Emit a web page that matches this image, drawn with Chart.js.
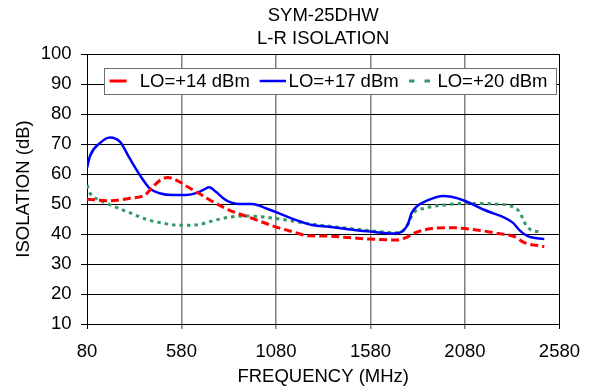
<!DOCTYPE html>
<html>
<head>
<meta charset="utf-8">
<script src="https://cdn.jsdelivr.net/npm/chart.js@4/dist/chart.umd.min.js"></script>
<style>
  body { margin: 0; background: #fff; }
  #wrap { width: 592px; height: 388px; }
</style>
</head>
<body>
<div id="wrap"><canvas id="isoChart"></canvas></div>
<script>
// --- data (MHz / dB) ---
const seriesLabels = ["LO=+14 dBm", "LO=+17 dBm", "LO=+20 dBm"];

const freq14 = [80, 201, 306, 386, 430, 473, 508, 552, 605, 657, 745, 832, 955, 1078, 1166, 1254, 1359, 1464, 1580, 1727, 1771, 1815, 1903, 2008, 2113, 2254, 2342, 2395, 2500];
const iso14 = [51.6, 51.1, 51.9, 53, 55.8, 58.2, 58.8, 58, 56, 54.1, 50.8, 48, 45.2, 42.4, 40.8, 39.4, 39.3, 38.8, 38.3, 38, 38.9, 40.4, 41.8, 42.1, 41.6, 40.2, 39.1, 37.1, 35.8];

const freq17 = [80, 96, 148, 201, 254, 306, 359, 412, 464, 534, 605, 666, 701, 727, 762, 815, 885, 955, 1026, 1096, 1184, 1271, 1359, 1464, 1580, 1710, 1754, 1780, 1797, 1824, 1885, 1964, 2008, 2078, 2184, 2333, 2368, 2412, 2500];
const iso17 = [62, 66, 70.3, 72.2, 70.8, 65.2, 59.7, 55.2, 53.6, 53, 53, 53.8, 54.9, 55.6, 54.1, 51.3, 50, 50, 48.6, 46.9, 44.7, 43, 42.4, 41.6, 40.8, 40.2, 41.1, 43.6, 46.9, 49.1, 51.3, 52.7, 52.4, 51.1, 48, 43.8, 41.3, 39.3, 38.3];

const freq20 = [80, 96, 148, 219, 306, 394, 482, 570, 657, 745, 832, 920, 1026, 1131, 1236, 1359, 1464, 1580, 1727, 1771, 1806, 1868, 1973, 2078, 2236, 2324, 2368, 2403, 2438, 2482];
const iso20 = [56.3, 53.6, 51.3, 49.3, 47.1, 44.9, 43.6, 42.9, 43, 44.4, 45.6, 46, 45.6, 44.7, 43.6, 42.6, 41.9, 41.1, 40.4, 42.4, 46.9, 48.6, 49.7, 50.2, 50, 49.3, 47.4, 43, 41.1, 40.8];

const xTicks = [80, 580, 1080, 1580, 2080, 2580];
const yTicks = [10, 20, 30, 40, 50, 60, 70, 80, 90, 100];

const toPoints = (xs, ys) => xs.map((x, i) => ({ x: x, y: ys[i] }));

Chart.defaults.font.family = "'Liberation Sans', Arial, sans-serif";
Chart.defaults.font.size = 18.5;
Chart.defaults.color = "#000";

// legend sits inside the plot, so draw it ourselves
const legendLayout = {
  box: { left: 104, top: 68, right: 556, bottom: 94 },
  items: [
    { sx: 5.6, sw: 17, tx: 35.8, dash: [] },
    { sx: 155.6, sw: 26.4, tx: 184.6, dash: [] },
    { sx: 305, sw: 21, tx: 333.4, dash: [5.5, 10] },
  ],
};

const insideLegend = {
  id: "insideLegend",
  afterDatasetsDraw(chart) {
    const ctx = chart.ctx;
    const b = legendLayout.box;
    const midY = (b.top + b.bottom) / 2;
    ctx.save();
    ctx.fillStyle = "#fff";
    ctx.fillRect(b.left, b.top, b.right - b.left, b.bottom - b.top);
    ctx.strokeStyle = "#6e6e6e";
    ctx.lineWidth = 1;
    ctx.strokeRect(b.left + 0.5, b.top + 0.5, b.right - b.left, b.bottom - b.top);
    chart.data.datasets.forEach((ds, i) => {
      const it = legendLayout.items[i];
      ctx.strokeStyle = ds.borderColor;
      ctx.lineWidth = ds.borderWidth;
      ctx.lineCap = "butt";
      ctx.setLineDash(it.dash);
      ctx.beginPath();
      ctx.moveTo(b.left + it.sx, midY);
      ctx.lineTo(b.left + it.sx + it.sw, midY);
      ctx.stroke();
      ctx.setLineDash([]);
      ctx.fillStyle = "#000";
      ctx.font = "18.5px 'Liberation Sans', Arial, sans-serif";
      ctx.textBaseline = "middle";
      ctx.textAlign = "left";
      ctx.fillText(ds.label, b.left + it.tx, midY + 1);
    });
    ctx.restore();
  },
};

new Chart(document.getElementById("isoChart"), {
  type: "scatter",
  data: {
    datasets: [
      {
        label: seriesLabels[0],
        data: toPoints(freq14, iso14),
        borderColor: "#ff0000",
        borderWidth: 3,
        borderDash: [8, 4],
      },
      {
        label: seriesLabels[1],
        data: toPoints(freq17, iso17),
        borderColor: "#0000ff",
        borderWidth: 2.5,
      },
      {
        label: seriesLabels[2],
        data: toPoints(freq20, iso20),
        borderColor: "#339966",
        borderWidth: 3,
        borderDash: [3.5, 4],
      },
    ].map((d) => Object.assign(d, {
      showLine: true,
      pointRadius: 0,
      cubicInterpolationMode: "monotone",
      fill: false,
    })),
  },
  options: {
    responsive: true,
    maintainAspectRatio: false,
    animation: false,
    layout: { padding: { left: 0, right: 30, top: 0, bottom: 0 } },
    plugins: {
      legend: { display: false },
      tooltip: { enabled: false },
      title: {
        display: true,
        fullSize: false,
        text: ["SYM-25DHW", "L-R ISOLATION"],
        color: "#000",
        font: { size: 18.5, weight: "normal", lineHeight: 1.26 },
        padding: { top: 4.3, bottom: 3.1 },
      },
    },
    scales: {
      x: {
        type: "linear",
        min: 80,
        max: 2580,
        afterBuildTicks: (s) => { s.ticks = xTicks.map((v) => ({ value: v })); },
        afterFit: (s) => { s.height = 64; },
        ticks: { padding: 12, color: "#000", callback: (v) => String(v) },
        grid: {
          color: (c) => (c.tick && (c.tick.value === 80 || c.tick.value === 2580) ? "#000" : "#808080"),
          lineWidth: (c) => (c.tick && (c.tick.value === 80 || c.tick.value === 2580) ? 1 : 1.5),
          tickLength: 5,
        },
        border: { display: true, color: "#000", width: 1 },
        title: {
          display: true,
          text: "FREQUENCY (MHz)",
          color: "#000",
          padding: { top: 0, bottom: 0 },
        },
      },
      y: {
        min: 10,
        max: 100,
        afterBuildTicks: (s) => { s.ticks = yTicks.map((v) => ({ value: v })); },
        afterFit: (s) => { s.width = 87; },
        ticks: { padding: 9.5, color: "#000", callback: (v) => String(v) },
        grid: { color: "#000", lineWidth: 1, tickLength: 6 },
        border: { display: true, color: "#000", width: 1 },
        title: {
          display: true,
          text: "ISOLATION (dB)",
          color: "#000",
          padding: 13,
        },
      },
    },
  },
  plugins: [insideLegend],
});
</script>
</body>
</html>
